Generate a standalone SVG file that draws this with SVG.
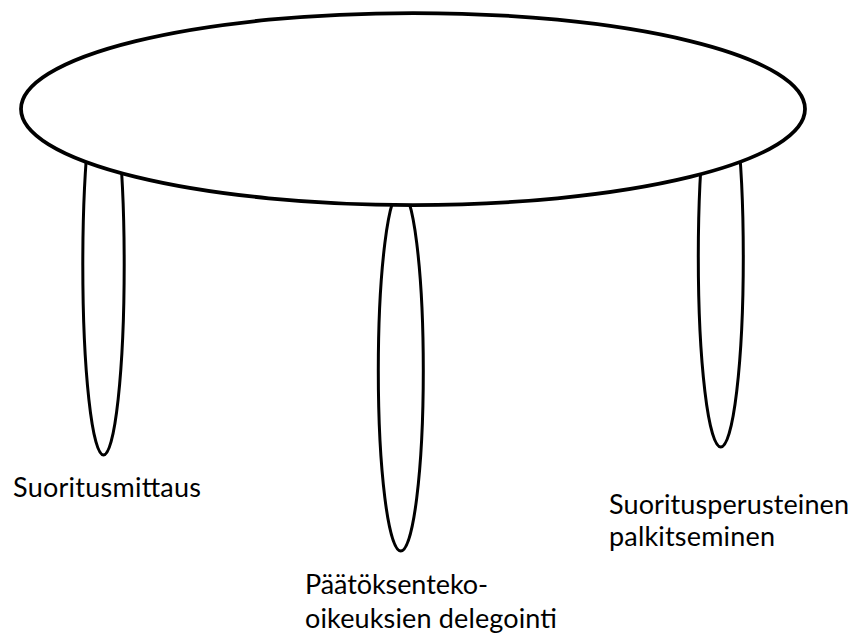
<svg xmlns="http://www.w3.org/2000/svg" width="853" height="639" viewBox="0 0 853 639">
<style>
.leg{fill:#fff;stroke:#000;stroke-width:3}
.top{fill:#fff;stroke:#000;stroke-width:3.75}
.lbl{font-family:Lato,"Open Sans","Liberation Sans",sans-serif;font-size:27px;fill:#000}
</style>
<rect width="853" height="639" fill="#fff"/>
<g id="leg-left"><ellipse class="leg" cx="103.5" cy="265" rx="20.7" ry="190"/></g>
<g id="leg-middle"><ellipse class="leg" cx="400.8" cy="370.5" rx="22.5" ry="180.5"/></g>
<g id="leg-right"><ellipse class="leg" cx="720.8" cy="257" rx="22.5" ry="190"/></g>
<g id="table-top"><ellipse class="top" cx="413" cy="109" rx="392" ry="96"/></g>
<g id="label-left"><text class="lbl" x="13" y="497" textLength="188">Suoritusmittaus</text></g>
<g id="label-middle"><text class="lbl" x="305" y="594" textLength="183">Päätöksenteko-</text><text class="lbl" x="305" y="628" textLength="252">oikeuksien delegointi</text></g>
<g id="label-right"><text class="lbl" x="609" y="514" textLength="240">Suoritusperusteinen</text><text class="lbl" x="609" y="546" textLength="166">palkitseminen</text></g>
<g id="connectors"/>
</svg>
